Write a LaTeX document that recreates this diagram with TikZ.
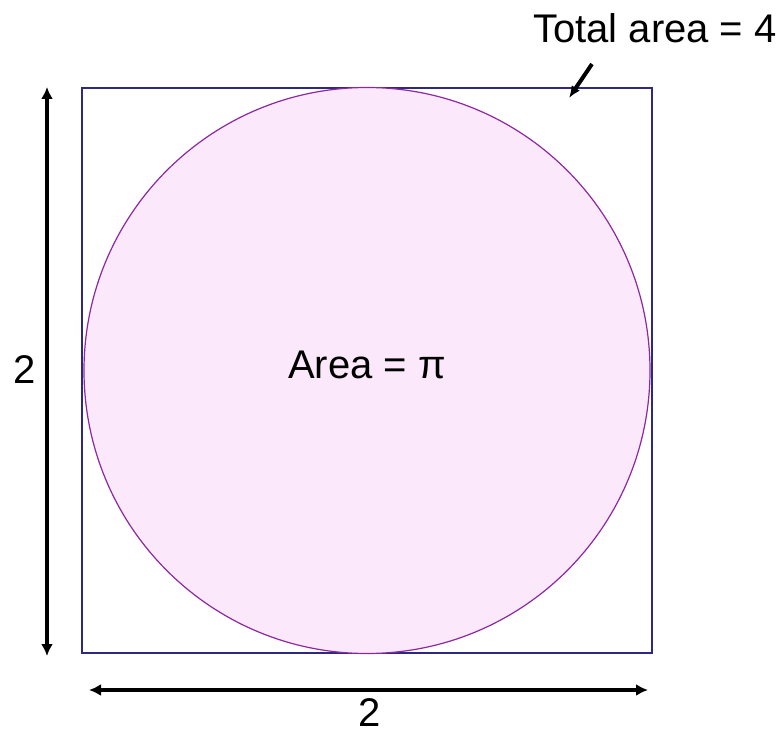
\documentclass[tikz,border=0pt]{standalone}
\usepackage{fontspec}
\setmainfont{Liberation Sans}
\usetikzlibrary{arrows.meta,positioning}
\definecolor{diskfill}{RGB}{251,232,251}
\definecolor{diskline}{RGB}{140,40,160}
\definecolor{squareline}{RGB}{45,40,130}

\begin{document}
\begin{tikzpicture}[
  x=0.5pt, y=-0.5pt,
  lbl/.style={font=\fontsize{20pt}{24pt}\selectfont, inner sep=0pt},
  sq/.style={rectangle, draw=squareline, line width=0.8pt, fill=white,
             minimum width=285pt, minimum height=282.5pt, inner sep=0pt},
  disk/.style={circle, draw=diskline, line width=0.6pt, fill=diskfill,
               minimum size=283pt, inner sep=0pt},
  dimarr/.style={{Latex[length=6pt,width=6pt]}-{Latex[length=6pt,width=6pt]}, line width=2pt},
  ptr/.style={-{Latex[length=6pt,width=5pt]}, line width=2pt}
]
\useasboundingbox (0,0) rectangle (782,733);

%% ---- Square and inscribed circle ----
\node[sq]   (square) at (367,370.5) {};
\node[disk] (circ)   at (367,370.5) {};
\node[lbl]  (inner)  at (367,365) {Area = π};

%% ---- Dimension arrows ----
\coordinate (vtop) at (47,87);
\coordinate (vbot) at (47,656);
\coordinate (hlft) at (89,690);
\coordinate (hrgt) at (648,690);
\draw[dimarr] (vtop) -- (vbot);
\draw[dimarr] (hlft) -- (hrgt);
\node[lbl] (side)   at (25,370)  {2};
\node[lbl] (bottom) at (370,713) {2};

%% ---- Total area label ----
\node[lbl] (total) at (655,28) {Total area = 4};
\coordinate (tip) at (569,98);
\coordinate (tail) at (592,64);
\draw[ptr] (tail) -- (tip);
\end{tikzpicture}
\end{document}
